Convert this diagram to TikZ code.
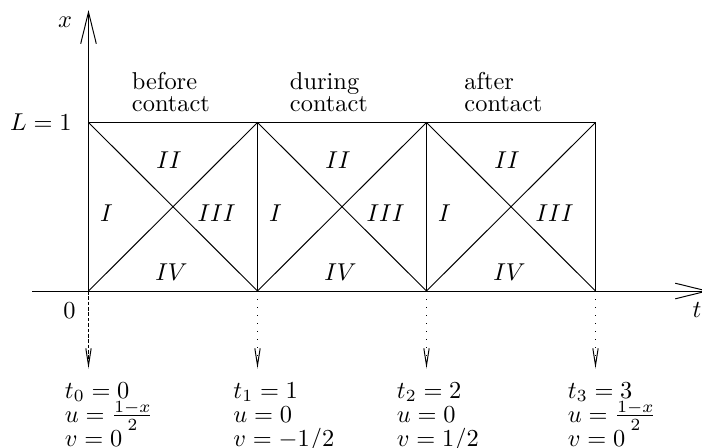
\documentclass[tikz,border=0pt]{standalone}
\usetikzlibrary{arrows.meta}
\begin{document}
\begin{tikzpicture}[x=0.41pt,y=-0.41pt, line width=0.4pt,
  bigarrow/.style={-{Straight Barb[length=13pt,width=6.4pt]}},
  smallarrow/.style={-{Straight Barb[length=7pt,width=2.2pt]}},
  lbl/.style={inner sep=0pt, anchor=base},
  lblw/.style={inner sep=0pt, anchor=base west},
  lble/.style={inner sep=0pt, anchor=base east},
  dotline/.style={dash pattern=on 0.4pt off 2.9pt},
  dashline/.style={dash pattern=on 1.5pt off 0.7pt}]
\useasboundingbox (0,0) rectangle (702,447);
% axes
\coordinate (O) at (88.5,291);
\coordinate (Xs) at (32,291);
\coordinate (Xe) at (709,291);
\coordinate (Ye) at (88.5,10);
\draw[bigarrow] (Xs) -- (Xe);
\draw[bigarrow] (O) -- (Ye);
% grid corners
\foreach \i in {0,1,2,3}{
  \coordinate (b\i) at (88.5+169*\i,291);
  \coordinate (t\i) at (88.5+169*\i,122.5);
  \coordinate (d\i) at (88.5+169*\i,368.5);
}
\draw (t0) -- (t3);
\foreach \i in {1,2,3}{ \draw (b\i) -- (t\i); }
\draw (b0) -- (t1) (t0) -- (b1);
\draw (b1) -- (t2) (t1) -- (b2);
\draw (b2) -- (t3) (t2) -- (b3);
% down arrows
\draw[dashline, smallarrow] (b0) -- (d0);
\draw[dotline, smallarrow] (b1) -- (d1);
\draw[dotline, smallarrow] (b2) -- (d2);
\draw[dotline, smallarrow] (b3) -- (d3);
% axis labels
\node[lbl] (xl) at (65,27) {$x$};
\node[lbl] (tl) at (697,317) {$t$};
\node[lble] (Ll) at (72,130) {$L=1$};
\node[lble] (zl) at (76,318) {$0$};
% phase labels
\node[lblw] (p1a) at (131.5,89) {before};
\node[lblw] (p1b) at (131.5,111.5) {contact};
\node[lblw] (p2a) at (289.5,89) {during};
\node[lblw] (p2b) at (289.5,111.5) {contact};
\node[lblw] (p3a) at (464,89) {after};
\node[lblw] (p3b) at (464,111.5) {contact};
% region labels
\foreach \i in {0,1,2}{
  \node[lbl] (rI\i)   at (106.5+169*\i,221) {$I$};
  \node[lbl] (rII\i)  at (169+169*\i,168) {$II$};
  \node[lbl] (rIII\i) at (216.5+169*\i,221) {$III$};
  \node[lbl] (rIV\i)  at (171.5+169*\i,280.5) {$IV$};
}
% bottom values
\node[lblw] (a0) at (64.5,398) {$t_0=0$};
\node[lblw] (a1) at (64.5,422) {$u=\frac{1-x}{2}$};
\node[lblw] (a2) at (64.5,446) {$v=0$};
\node[lblw] (c0) at (233,398) {$t_1=1$};
\node[lblw] (c1) at (233,422) {$u=0$};
\node[lblw] (c2) at (233,446) {$v=-1/2$};
\node[lblw] (e0) at (396.5,398) {$t_2=2$};
\node[lblw] (e1) at (396.5,422) {$u=0$};
\node[lblw] (e2) at (396.5,446) {$v=1/2$};
\node[lblw] (g0) at (567.5,398) {$t_3=3$};
\node[lblw] (g1) at (567.5,422) {$u=\frac{1-x}{2}$};
\node[lblw] (g2) at (567.5,446) {$v=0$};
\end{tikzpicture}
\end{document}
